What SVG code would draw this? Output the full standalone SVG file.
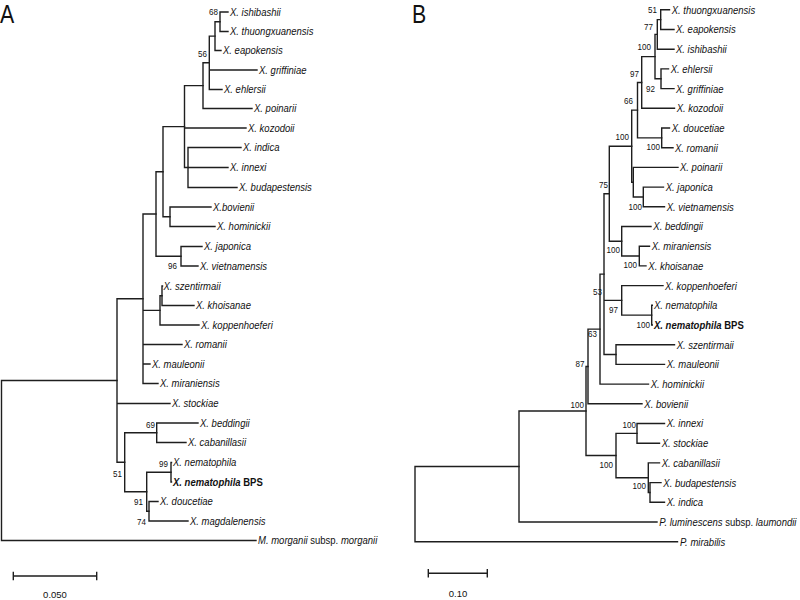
<svg xmlns="http://www.w3.org/2000/svg" width="800" height="600" viewBox="0 0 800 600">
<style>
.br{fill:none;stroke:#1e1e1e;stroke-width:1.4;stroke-linecap:square}
.tx{font-family:"Liberation Sans",Arial,sans-serif;font-size:11.6px;font-style:italic;fill:#111}
.up{font-style:normal}
.bs{font-family:"Liberation Sans",Arial,sans-serif;font-size:9.8px;fill:#111;text-anchor:end}
.sc{font-family:"Liberation Sans",Arial,sans-serif;font-size:9.5px;fill:#111;text-anchor:middle}
.pl{font-family:"Liberation Sans",Arial,sans-serif;font-size:26px;fill:#111}
</style>
<rect width="800" height="600" fill="#fff"/>
<g id="panel-labels" transform="scale(0.82,1)">
<text class="pl" x="0" y="23">A</text>
<text class="pl" x="502.44" y="22.5">B</text>
</g>

<g id="connectors">
<g id="edges-A">
<path class="br" d="M220,12 V31.5 M220,12 H228 M220,31.5 H228"/>
<path class="br" d="M215,21.75 V50.5 M215,21.75 H220 M215,50.5 H221"/>
<path class="br" d="M209.3,36.1 V89.5 M209.3,36.1 H215 M209.3,70 H257 M209.3,89.5 H222"/>
<path class="br" d="M203,62.8 V108.5 M203,62.8 H209.3 M203,108.5 H252"/>
<path class="br" d="M188,147.5 V187.5 M188,147.5 H241 M188,167.5 H228 M188,187.5 H237"/>
<path class="br" d="M184.5,85.65 V167.5 M184.5,85.65 H203 M184.5,128 H246 M184.5,167.5 H188"/>
<path class="br" d="M170,207 V226.5 M170,207 H211 M170,226.5 H215"/>
<path class="br" d="M163,126.6 V216.75 M163,126.6 H184.5 M163,216.75 H170"/>
<path class="br" d="M181,246.5 V266 M181,246.5 H202 M181,266 H198"/>
<path class="br" d="M156,171.7 V256.25 M156,171.7 H163 M156,256.25 H181"/>
<path class="br" d="M162,286 V305.5 M162,286 H162.5 M162,305.5 H194"/>
<path class="br" d="M160,295.75 V325 M160,295.75 H162 M160,325 H199"/>
<path class="br" d="M143,214 V383.5 M143,214 H156 M143,310.4 H160 M143,344.5 H182 M143,364 H150 M143,383.5 H158"/>
<path class="br" d="M156.7,423 V442.5 M156.7,423 H198 M156.7,442.5 H186"/>
<path class="br" d="M171,462.5 V482 M171,462.5 H171.5 M171,482 H171.5"/>
<path class="br" d="M149,501.5 V521 M149,501.5 H158 M149,521 H188"/>
<path class="br" d="M146.7,472.25 V511.25 M146.7,472.25 H171 M146.7,511.25 H149"/>
<path class="br" d="M124.7,432.75 V491.75 M124.7,432.75 H156.7 M124.7,491.75 H146.7"/>
<path class="br" d="M117,298.75 V462.25 M117,298.75 H143 M117,403.5 H170 M117,462.25 H124.7"/>
<path class="br" d="M1.5,380.5 V540.5 M1.5,380.5 H117 M1.5,540.5 H256"/>
</g>
<g id="edges-B">
<path class="br" d="M660.7,9.8 V29.5 M660.7,9.8 H669.5 M660.7,29.5 H674"/>
<path class="br" d="M657.3,19.65 V49.2 M657.3,19.65 H660.7 M657.3,49.2 H674"/>
<path class="br" d="M661,68.9 V88.6 M661,68.9 H668.5 M661,88.6 H674"/>
<path class="br" d="M655,34.4 V78.75 M655,34.4 H657.3 M655,78.75 H661"/>
<path class="br" d="M641.7,56.6 V108.3 M641.7,56.6 H655 M641.7,108.3 H674.5"/>
<path class="br" d="M661.7,128 V147.7 M661.7,128 H669.5 M661.7,147.7 H673"/>
<path class="br" d="M637.5,82.45 V137.85 M637.5,82.45 H641.7 M637.5,137.85 H661.7"/>
<path class="br" d="M643.3,187.1 V206.8 M643.3,187.1 H663.5 M643.3,206.8 H664.5"/>
<path class="br" d="M633.3,167.4 V196.95 M633.3,167.4 H678 M633.3,196.95 H643.3"/>
<path class="br" d="M631.7,110.15 V182.2 M631.7,110.15 H637.5 M631.7,182.2 H633.3"/>
<path class="br" d="M639.3,246.2 V265.9 M639.3,246.2 H649.5 M639.3,265.9 H646"/>
<path class="br" d="M621.7,226.5 V256.05 M621.7,226.5 H651 M621.7,256.05 H639.3"/>
<path class="br" d="M609.3,146.2 V241.3 M609.3,146.2 H631.7 M609.3,241.3 H621.7"/>
<path class="br" d="M651.7,305.3 V325 M651.7,305.3 H652.3 M651.7,325 H652.3"/>
<path class="br" d="M621.7,285.6 V315.15 M621.7,285.6 H663 M621.7,315.15 H651.7"/>
<path class="br" d="M616,344.7 V364.4 M616,344.7 H674.5 M616,364.4 H664.5"/>
<path class="br" d="M604,193.75 V354.55 M604,193.75 H609.3 M604,300.4 H621.7 M604,354.55 H616"/>
<path class="br" d="M600,274.15 V384.1 M600,274.15 H604 M600,384.1 H648.5"/>
<path class="br" d="M588,329.1 V403.8 M588,329.1 H600 M588,403.8 H642"/>
<path class="br" d="M637,423.5 V443.2 M637,423.5 H664.5 M637,443.2 H659.5"/>
<path class="br" d="M650,482.6 V502.3 M650,482.6 H661 M650,502.3 H664.5"/>
<path class="br" d="M648.3,462.9 V492.45 M648.3,462.9 H659.5 M648.3,492.45 H650"/>
<path class="br" d="M616,433.35 V477.7 M616,433.35 H637 M616,477.7 H648.3"/>
<path class="br" d="M586,366.45 V455.5 M586,366.45 H588 M586,455.5 H616"/>
<path class="br" d="M519,411 V522 M519,411 H586 M519,522 H657"/>
<path class="br" d="M415,466.5 V541.7 M415,466.5 H519 M415,541.7 H677.5"/>
</g>
<g id="scalebars">
<path class="br" d="M13.3,576 H96.7 M13.3,572.5 V579.5 M96.7,572.5 V579.5"/>
<path class="br" d="M428.3,573.3 H487.3 M428.3,569.8 V576.8 M487.3,569.8 V576.8"/>
</g>
</g>

<g id="taxa-A" transform="scale(0.82,1)">
<g id="a-ishibashii"><text class="tx" x="280.49" y="16">X. ishibashii</text></g>
<g id="a-thuongxuanensis"><text class="tx" x="280.49" y="35.5">X. thuongxuanensis</text></g>
<g id="a-eapokensis"><text class="tx" x="271.95" y="54.5">X. eapokensis</text></g>
<g id="a-griffiniae"><text class="tx" x="315.85" y="74">X. griffiniae</text></g>
<g id="a-ehlersii"><text class="tx" x="273.17" y="93.5">X. ehlersii</text></g>
<g id="a-poinarii"><text class="tx" x="309.76" y="112.5">X. poinarii</text></g>
<g id="a-kozodoii"><text class="tx" x="302.44" y="132">X. kozodoii</text></g>
<g id="a-indica"><text class="tx" x="296.34" y="151.5">X. indica</text></g>
<g id="a-innexi"><text class="tx" x="280.49" y="171.5">X. innexi</text></g>
<g id="a-budapestensis"><text class="tx" x="291.46" y="191.5">X. budapestensis</text></g>
<g id="a-bovienii"><text class="tx" x="259.76" y="211">X.bovienii</text></g>
<g id="a-hominickii"><text class="tx" x="264.63" y="230.5">X. hominickii</text></g>
<g id="a-japonica"><text class="tx" x="248.78" y="250.5">X. japonica</text></g>
<g id="a-vietnamensis"><text class="tx" x="243.9" y="270">X. vietnamensis</text></g>
<g id="a-szentirmaii"><text class="tx" x="199.39" y="290">X. szentirmaii</text></g>
<g id="a-khoisanae"><text class="tx" x="239.02" y="309.5">X. khoisanae</text></g>
<g id="a-koppenhoeferi"><text class="tx" x="245.12" y="329">X. koppenhoeferi</text></g>
<g id="a-romanii"><text class="tx" x="224.39" y="348.5">X. romanii</text></g>
<g id="a-mauleonii"><text class="tx" x="185.37" y="368">X. mauleonii</text></g>
<g id="a-miraniensis"><text class="tx" x="195.12" y="387.5">X. miraniensis</text></g>
<g id="a-stockiae"><text class="tx" x="209.76" y="407.5">X. stockiae</text></g>
<g id="a-beddingii"><text class="tx" x="243.9" y="427">X. beddingii</text></g>
<g id="a-cabanillasii"><text class="tx" x="229.27" y="446.5">X. cabanillasii</text></g>
<g id="a-nematophila"><text class="tx" x="210.98" y="466.5">X. nematophila</text></g>
<g id="a-nematophila-bps"><text class="tx" x="210.98" y="486" font-weight="bold">X. nematophila<tspan class="up"> BPS</tspan></text></g>
<g id="a-doucetiae"><text class="tx" x="195.12" y="505.5">X. doucetiae</text></g>
<g id="a-magdalenensis"><text class="tx" x="231.71" y="525">X. magdalenensis</text></g>
<g id="a-morganii"><text class="tx" x="314.63" y="544.5">M. morganii <tspan class="up">subsp.</tspan> morganii</text></g>
</g>

<g id="taxa-B" transform="scale(0.82,1)">
<g id="b-thuongxuanensis"><text class="tx" x="819.15" y="13.8">X. thuongxuanensis</text></g>
<g id="b-eapokensis"><text class="tx" x="824.39" y="33.5">X. eapokensis</text></g>
<g id="b-ishibashii"><text class="tx" x="824.39" y="53.2">X. ishibashii</text></g>
<g id="b-ehlersii"><text class="tx" x="817.93" y="72.9">X. ehlersii</text></g>
<g id="b-griffiniae"><text class="tx" x="824.39" y="92.6">X. griffiniae</text></g>
<g id="b-kozodoii"><text class="tx" x="825.24" y="112.3">X. kozodoii</text></g>
<g id="b-doucetiae"><text class="tx" x="819.15" y="132">X. doucetiae</text></g>
<g id="b-romanii"><text class="tx" x="823.17" y="151.7">X. romanii</text></g>
<g id="b-poinarii"><text class="tx" x="829.27" y="171.4">X. poinarii</text></g>
<g id="b-japonica"><text class="tx" x="811.83" y="191.1">X. japonica</text></g>
<g id="b-vietnamensis"><text class="tx" x="813.05" y="210.8">X. vietnamensis</text></g>
<g id="b-beddingii"><text class="tx" x="796.71" y="230.5">X. beddingii</text></g>
<g id="b-miraniensis"><text class="tx" x="794.76" y="250.2">X. miraniensis</text></g>
<g id="b-khoisanae"><text class="tx" x="790.61" y="269.9">X. khoisanae</text></g>
<g id="b-koppenhoeferi"><text class="tx" x="810.98" y="289.6">X. koppenhoeferi</text></g>
<g id="b-nematophila"><text class="tx" x="797.56" y="309.3">X. nematophila</text></g>
<g id="b-nematophila-bps"><text class="tx" x="797.56" y="329" font-weight="bold">X. nematophila<tspan class="up"> BPS</tspan></text></g>
<g id="b-szentirmaii"><text class="tx" x="825.24" y="348.7">X. szentirmaii</text></g>
<g id="b-mauleonii"><text class="tx" x="813.05" y="368.4">X. mauleonii</text></g>
<g id="b-hominickii"><text class="tx" x="793.54" y="388.1">X. hominickii</text></g>
<g id="b-bovienii"><text class="tx" x="785.73" y="407.8">X. bovienii</text></g>
<g id="b-innexi"><text class="tx" x="813.05" y="427.5">X. innexi</text></g>
<g id="b-stockiae"><text class="tx" x="806.95" y="447.2">X. stockiae</text></g>
<g id="b-cabanillasii"><text class="tx" x="806.95" y="466.9">X. cabanillasii</text></g>
<g id="b-budapestensis"><text class="tx" x="808.9" y="486.6">X. budapestensis</text></g>
<g id="b-indica"><text class="tx" x="813.05" y="506.3">X. indica</text></g>
<g id="b-luminescens"><text class="tx" x="804.02" y="526">P. luminescens <tspan class="up">subsp.</tspan> laumondii</text></g>
<g id="b-mirabilis"><text class="tx" x="829.27" y="545.7">P. mirabilis</text></g>
</g>

<g id="bootstrap-A" transform="scale(0.82,1)">
<text class="bs" x="265.85" y="15.5">68</text>
<text class="bs" x="252.44" y="57">56</text>
<text class="bs" x="215.85" y="269.5">96</text>
<text class="bs" x="189.02" y="428">69</text>
<text class="bs" x="204.88" y="467">99</text>
<text class="bs" x="148.78" y="477">51</text>
<text class="bs" x="174.39" y="505">91</text>
<text class="bs" x="178.05" y="525">74</text>
</g>
<g id="bootstrap-B" transform="scale(0.82,1)">
<text class="bs" x="801.22" y="13.5">51</text>
<text class="bs" x="796.34" y="30">77</text>
<text class="bs" x="793.9" y="50">100</text>
<text class="bs" x="779.27" y="77">97</text>
<text class="bs" x="798.78" y="92">92</text>
<text class="bs" x="771.95" y="104">66</text>
<text class="bs" x="767.07" y="140">100</text>
<text class="bs" x="804.88" y="150">100</text>
<text class="bs" x="741.46" y="188">75</text>
<text class="bs" x="782.93" y="210">100</text>
<text class="bs" x="756.1" y="253">100</text>
<text class="bs" x="776.83" y="268">100</text>
<text class="bs" x="734.15" y="295">53</text>
<text class="bs" x="753.66" y="313">97</text>
<text class="bs" x="792.68" y="328">100</text>
<text class="bs" x="728.05" y="337">63</text>
<text class="bs" x="712.8" y="367">87</text>
<text class="bs" x="712.2" y="408">100</text>
<text class="bs" x="775.61" y="428">100</text>
<text class="bs" x="747.56" y="468">100</text>
<text class="bs" x="787.8" y="489">100</text>
</g>

<g id="scale-labels">
<text class="sc" x="55" y="598">0.050</text>
<text class="sc" x="458" y="597">0.10</text>
</g>
</svg>
